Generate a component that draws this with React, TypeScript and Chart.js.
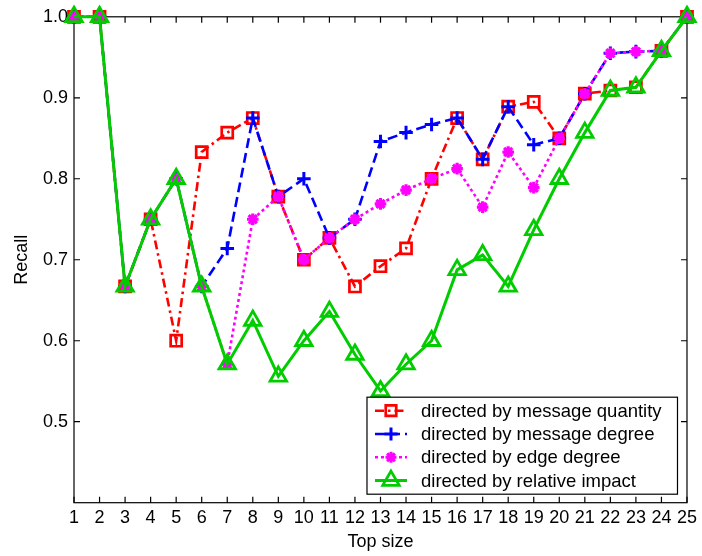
import React, { useEffect, useRef } from 'react';
import { Chart, registerables } from 'chart.js';

Chart.register(...registerables);

const topSizes = [1, 2, 3, 4, 5, 6, 7, 8, 9, 10, 11, 12, 13, 14, 15, 16, 17, 18, 19, 20, 21, 22, 23, 24, 25];

const messageQuantity = [1.0, 1.0, 0.667, 0.75, 0.6, 0.833, 0.857, 0.875, 0.778, 0.7, 0.727, 0.667, 0.692, 0.714, 0.8, 0.875, 0.824, 0.889, 0.895, 0.85, 0.905, 0.909, 0.913, 0.958, 1.0];
const messageDegree = [1.0, 1.0, 0.667, 0.75, 0.8, 0.667, 0.714, 0.875, 0.778, 0.8, 0.727, 0.75, 0.846, 0.857, 0.867, 0.875, 0.824, 0.889, 0.842, 0.85, 0.905, 0.955, 0.957, 0.958, 1.0];
const edgeDegree = [1.0, 1.0, 0.667, 0.75, 0.8, 0.667, 0.571, 0.75, 0.778, 0.7, 0.727, 0.75, 0.769, 0.786, 0.8, 0.8125, 0.765, 0.833, 0.789, 0.85, 0.905, 0.955, 0.957, 0.958, 1.0];
const relativeImpact = [1.0, 1.0, 0.667, 0.75, 0.8, 0.667, 0.571, 0.625, 0.556, 0.6, 0.636, 0.583, 0.538, 0.571, 0.6, 0.6875, 0.706, 0.667, 0.737, 0.8, 0.857, 0.909, 0.913, 0.958, 1.0];

const seriesLabels = [
  'directed by message quantity',
  'directed by message degree',
  'directed by edge degree',
  'directed by relative impact',
];
const yTickValues = [0.5, 0.6, 0.7, 0.8, 0.9, 1.0];

const FONT = '"Liberation Sans", Arial, sans-serif';
const RED = '#ff0000';
const BLUE = '#0000ff';
const MAGENTA = '#ff00ff';
const GREEN = '#00cc00';

type Style = { color: string; dash: number[]; marker: string; width: number };
const styles: Style[] = [
  { color: RED, dash: [9, 4, 2.5, 4], marker: 'square', width: 2.6 },
  { color: BLUE, dash: [10, 5], marker: 'plus', width: 2.6 },
  { color: MAGENTA, dash: [3, 3], marker: 'star', width: 2.6 },
  { color: GREEN, dash: [], marker: 'triangle', width: 3 },
];

function drawMarker(ctx: CanvasRenderingContext2D, kind: string, x: number, y: number, color: string) {
  ctx.save();
  ctx.setLineDash([]);
  ctx.strokeStyle = color;
  ctx.fillStyle = color;
  ctx.beginPath();
  if (kind === 'square') {
    ctx.lineWidth = 2.7;
    const s = 10.5;
    ctx.rect(x - s / 2, y - s / 2, s, s);
    ctx.stroke();
  } else if (kind === 'plus') {
    ctx.lineWidth = 3;
    const r = 6.5;
    ctx.moveTo(x - r, y); ctx.lineTo(x + r, y);
    ctx.moveTo(x, y - r); ctx.lineTo(x, y + r);
    ctx.stroke();
  } else if (kind === 'star') {
    ctx.lineWidth = 3;
    const r = 5.5;
    ctx.moveTo(x - r, y); ctx.lineTo(x + r, y);
    ctx.moveTo(x, y - r); ctx.lineTo(x, y + r);
    const d = r * Math.SQRT1_2;
    ctx.moveTo(x - d, y - d); ctx.lineTo(x + d, y + d);
    ctx.moveTo(x - d, y + d); ctx.lineTo(x + d, y - d);
    ctx.stroke();
  } else if (kind === 'triangle') {
    ctx.lineWidth = 2.8;
    const r = 9.5;
    ctx.moveTo(x, y - r);
    ctx.lineTo(x + r * Math.sin((2 * Math.PI) / 3), y - r * Math.cos((2 * Math.PI) / 3));
    ctx.lineTo(x + r * Math.sin((4 * Math.PI) / 3), y - r * Math.cos((4 * Math.PI) / 3));
    ctx.closePath();
    ctx.stroke();
  }
  ctx.restore();
}

const framePlugin = {
  id: 'frameTicks',
  beforeDatasetsDraw(chart: any) {
    const { ctx, chartArea } = chart;
    const { left, right, top, bottom } = chartArea;
    const xs = chart.scales.x;
    const ys = chart.scales.y;
    const tl = 6;
    ctx.save();
    ctx.strokeStyle = '#000';
    ctx.lineWidth = 1.2;
    ctx.setLineDash([]);
    ctx.strokeRect(left, top, right - left, bottom - top);
    ctx.beginPath();
    topSizes.forEach((v) => {
      const px = xs.getPixelForValue(v);
      ctx.moveTo(px, bottom); ctx.lineTo(px, bottom - tl);
      ctx.moveTo(px, top); ctx.lineTo(px, top + tl);
    });
    yTickValues.forEach((v) => {
      const py = ys.getPixelForValue(v);
      ctx.moveTo(left, py); ctx.lineTo(left + tl, py);
      ctx.moveTo(right, py); ctx.lineTo(right - tl, py);
    });
    ctx.stroke();
    ctx.restore();
  },
};

const legendPlugin = {
  id: 'boxLegend',
  afterDraw(chart: any) {
    const { ctx, chartArea } = chart;
    const bx1 = chartArea.right - 9.5;
    const by1 = chartArea.bottom - 8.5;
    const bx0 = bx1 - 310.5;
    const by0 = by1 - 97;
    ctx.save();
    ctx.fillStyle = '#fff';
    ctx.fillRect(bx0, by0, bx1 - bx0, by1 - by0);
    ctx.strokeStyle = '#000';
    ctx.lineWidth = 1.2;
    ctx.setLineDash([]);
    ctx.strokeRect(bx0, by0, bx1 - bx0, by1 - by0);
    ctx.font = `18.5px ${FONT}`;
    ctx.textBaseline = 'middle';
    ctx.textAlign = 'left';
    seriesLabels.forEach((label, i) => {
      const st = styles[i];
      const y = by0 + 13.5 + i * 23.3;
      const lx0 = bx0 + 8;
      const lx1 = bx0 + 40;
      ctx.save();
      ctx.strokeStyle = st.color;
      ctx.lineWidth = st.width;
      ctx.lineCap = 'butt';
      ctx.setLineDash(st.dash);
      ctx.beginPath();
      ctx.moveTo(lx0, y);
      ctx.lineTo(lx1, y);
      ctx.stroke();
      ctx.restore();
      drawMarker(ctx, st.marker, (lx0 + lx1) / 2, y, st.color);
      ctx.fillStyle = '#000';
      ctx.fillText(label, bx0 + 54, y + 1);
    });
    ctx.restore();
  },
};

const seriesValues = [messageQuantity, messageDegree, edgeDegree, relativeImpact];
const pointStyles = ['rect', 'cross', 'star', 'triangle'];
const pointRadii = [7.8, 6.8, 5.8, 9.5];
const pointBorderWidths = [2.7, 3, 3.2, 2.8];
const drawOrder = [4, 3, 2, 1];

export default function App() {
  const canvasRef = useRef<HTMLCanvasElement | null>(null);

  useEffect(() => {
    const canvas = canvasRef.current;
    if (!canvas) return;
    const datasets = seriesValues.map((vals, i) => ({
      label: seriesLabels[i],
      data: vals.map((v, j) => ({ x: topSizes[j], y: v })),
      borderColor: styles[i].color,
      backgroundColor: styles[i].color,
      borderWidth: styles[i].width,
      borderDash: styles[i].dash,
      borderCapStyle: 'butt' as const,
      pointStyle: pointStyles[i],
      pointRadius: pointRadii[i],
      pointBorderWidth: pointBorderWidths[i],
      pointBorderColor: styles[i].color,
      pointBackgroundColor: 'rgba(0,0,0,0)',
      tension: 0,
      fill: false,
      clip: false as const,
      order: drawOrder[i],
    }));

    const font = { family: FONT, size: 18 };
    const chart = new Chart(canvas, {
      type: 'line',
      data: { datasets },
      options: {
        animation: false,
        responsive: false,
        devicePixelRatio: 1,
        layout: { padding: { left: 0, right: 12, top: 16, bottom: 0 } },
        plugins: {
          legend: { display: false },
          tooltip: { enabled: false },
        },
        scales: {
          x: {
            type: 'linear',
            min: 1,
            max: 25,
            afterFit: (s: any) => { s.height = 53.3; },
            grid: { display: false, drawTicks: false },
            border: { display: false },
            ticks: {
              stepSize: 1,
              autoSkip: false,
              maxRotation: 0,
              padding: 5,
              color: '#000',
              font,
              callback: (v: any) => String(v),
            },
            title: {
              display: true,
              text: 'Top size',
              color: '#000',
              font,
              padding: { top: 0, bottom: 3 },
            },
          },
          y: {
            type: 'linear',
            min: 0.4,
            max: 1.0,
            afterFit: (s: any) => { s.width = 74; },
            grid: { display: false, drawTicks: false },
            border: { display: false },
            ticks: {
              stepSize: 0.1,
              padding: 6,
              color: '#000',
              font,
              callback: (v: any) => (Number(v) < 0.45 ? '' : Number(v).toFixed(1)),
            },
            title: {
              display: true,
              text: 'Recall',
              color: '#000',
              font,
              padding: { top: 11, bottom: 0 },
            },
          },
        },
      },
      plugins: [framePlugin, legendPlugin],
    });
    return () => chart.destroy();
  }, []);

  return (
    <div style={{ position: 'absolute', left: 0, top: 0, width: 702, height: 556, background: '#fff' }}>
      <canvas ref={canvasRef} width={702} height={556} style={{ display: 'block', width: 702, height: 556 }} />
    </div>
  );
}
